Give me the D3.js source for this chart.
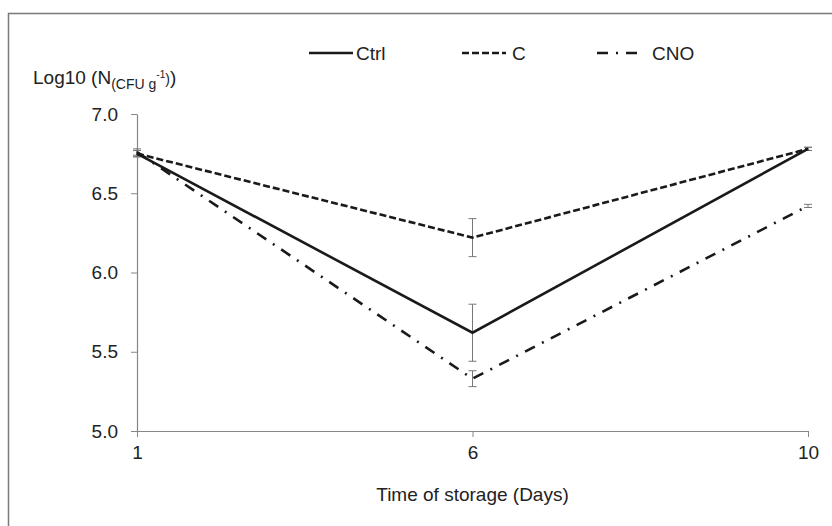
<!DOCTYPE html>
<meta charset="utf-8" />
<script src="https://d3js.org/d3.v7.min.js"></script>
<style>
  body { margin: 0; background: #fff; }
  text { font-family: "Liberation Sans", Arial, sans-serif; fill: #222; }
</style>
<div id="my_dataviz"></div>
<script>
  // data
  const days = ["1", "6", "10"];
  const ctrlValues = [6.75, 5.62, 6.78];
  const cValues = [6.75, 6.22, 6.78];
  const cnoValues = [6.76, 5.33, 6.42];
  const ctrlErr = [0.02, 0.18, 0.01];
  const cErr = [0.02, 0.12, 0.01];
  const cnoErr = [0.02, 0.05, 0.01];
  const yTicks = [5.0, 5.5, 6.0, 6.5, 7.0];

  const series = [
    { name: "Ctrl", values: ctrlValues, err: ctrlErr, dash: null },
    { name: "C", values: cValues, err: cErr, dash: "7,3" },
    { name: "CNO", values: cnoValues, err: cnoErr, dash: "11,8,2,8" },
  ];

  const W = 832, H = 526;
  const margin = { top: 114, right: 24, bottom: 95, left: 137 };
  const fs = "19px";

  const svg = d3
    .select("#my_dataviz")
    .append("svg")
    .attr("width", W)
    .attr("height", H);

  svg.append("rect").attr("width", W).attr("height", H).attr("fill", "#fff");

  // outer frame (runs off the right and bottom edges)
  svg
    .append("rect")
    .attr("x", 8.5)
    .attr("y", 13.5)
    .attr("width", W)
    .attr("height", H)
    .attr("fill", "none")
    .attr("stroke", "#7a7a7a")
    .attr("stroke-width", 1.5);

  const x = d3.scalePoint().domain(days).range([margin.left, W - margin.right]);
  const y = d3.scaleLinear().domain([5, 7]).range([H - margin.bottom, margin.top]);

  // axes
  const xAxis = svg
    .append("g")
    .attr("transform", `translate(0, ${y(5)})`)
    .call(d3.axisBottom(x).tickSizeInner(6).tickSizeOuter(0).tickPadding(5));
  const yAxis = svg
    .append("g")
    .attr("transform", `translate(${x("1")}, 0)`)
    .call(
      d3.axisLeft(y).tickValues(yTicks).tickFormat(d3.format(".1f"))
        .tickSizeInner(6).tickSizeOuter(0).tickPadding(13)
    );
  [xAxis, yAxis].forEach(function (g) {
    g.select(".domain").attr("stroke", "#868686").attr("stroke-width", 1.2);
    g.selectAll(".tick line").attr("stroke", "#868686").attr("stroke-width", 1);
    g.selectAll(".tick text").style("font-size", fs).attr("fill", "#222");
  });
  xAxis.selectAll(".tick text").attr("dy", "0.9em");

  // axis titles
  svg
    .append("text")
    .attr("x", x("6"))
    .attr("y", 501)
    .attr("text-anchor", "middle")
    .style("font-size", fs)
    .text("Time of storage (Days)");

  const yl = svg
    .append("text")
    .attr("x", 33)
    .attr("y", 84)
    .style("font-size", fs);
  yl.append("tspan").text("Log10 (N");
  yl.append("tspan").attr("dy", 5).style("font-size", "14px").text("(CFU g");
  yl.append("tspan").attr("dy", -11).style("font-size", "10px").text("-1");
  yl.append("tspan").attr("dy", 6).style("font-size", "14px").text(")");
  yl.append("tspan").attr("dy", -0).text(")");

  // error bars
  series.forEach(function (s) {
    const g = svg.append("g");
    days.forEach(function (d, i) {
      const cx = x(d);
      const lo = y(s.values[i] - s.err[i]);
      const hi = y(s.values[i] + s.err[i]);
      g.append("line").attr("x1", cx).attr("x2", cx).attr("y1", lo).attr("y2", hi)
        .attr("stroke", "#777").attr("stroke-width", 1);
      [lo, hi].forEach(function (yy) {
        g.append("line").attr("x1", cx - 4).attr("x2", cx + 4).attr("y1", yy).attr("y2", yy)
          .attr("stroke", "#777").attr("stroke-width", 1);
      });
    });
  });

  // lines
  const line = d3
    .line()
    .x(function (d, i) { return x(days[i]); })
    .y(function (d) { return y(d); });

  series.forEach(function (s) {
    svg
      .append("path")
      .datum(s.values)
      .attr("fill", "none")
      .attr("stroke", "#1a1a1a")
      .attr("stroke-width", 2.6)
      .attr("stroke-dasharray", s.dash)
      .attr("d", line);
  });

  // legend
  const legendX = [309, 462, 597];
  const legendText = [356, 512, 652];
  series.forEach(function (s, i) {
    svg
      .append("line")
      .attr("x1", legendX[i])
      .attr("x2", legendX[i] + 44)
      .attr("y1", 53)
      .attr("y2", 53)
      .attr("stroke", "#1a1a1a")
      .attr("stroke-width", 2.6)
      .attr("stroke-dasharray", s.dash);
    svg
      .append("text")
      .attr("x", legendText[i])
      .attr("y", 60)
      .style("font-size", fs)
      .text(s.name);
  });
</script>
